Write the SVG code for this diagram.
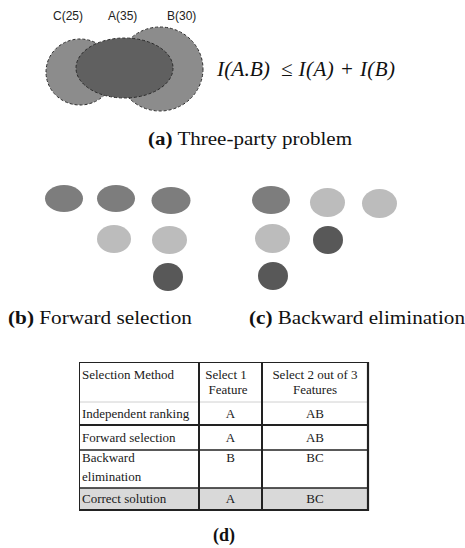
<svg xmlns="http://www.w3.org/2000/svg" width="465" height="548" viewBox="0 0 465 548">
  <style>
    .lbl { font-family: "Liberation Sans", Arial, sans-serif; font-size: 12px; fill: #222; }
    .cap { font-family: "Liberation Serif", "Times New Roman", serif; font-size: 18px; fill: #111; }
    .bold { font-weight: bold; }
    .math { font-family: "Liberation Serif", "Times New Roman", serif; font-size: 21px; font-style: italic; fill: #111; }
    .venn { stroke: #2a2a2a; stroke-width: 1; stroke-dasharray: 3 2; }
    .mid { fill: #7d7d7d; }
    .light { fill: #bcbcbc; }
    .dark { fill: #585858; }
    .cell { font-family: "Liberation Serif", "Times New Roman", serif; font-size: 13px; fill: #1a1a1a; }
    .ctr { text-anchor: middle; }
    .rule { stroke: #222; fill: none; }
  </style>

  <!-- (a) three-party problem: overlapping feature sets -->
  <g id="venn">
    <ellipse id="setC" class="venn" cx="80" cy="72" rx="34" ry="33" fill="#8c8c8c"/>
    <ellipse id="setB" class="venn" cx="160" cy="69" rx="43" ry="42" fill="#8c8c8c"/>
    <ellipse id="setA" class="venn" cx="124.5" cy="68" rx="48.5" ry="30" fill="#606060"/>
    <text class="lbl" x="53" y="20">C(25)</text>
    <text class="lbl" x="108" y="20">A(35)</text>
    <text class="lbl" x="167" y="20">B(30)</text>
  </g>
  <g id="formula" class="math">
    <text x="217" y="76" textLength="53" lengthAdjust="spacingAndGlyphs">I(A.B)</text>
    <text x="281" y="76" textLength="114" lengthAdjust="spacing">≤ I(A) + I(B)</text>
  </g>
  <text id="cap-a" class="cap" x="148" y="145" textLength="204" lengthAdjust="spacingAndGlyphs"><tspan class="bold">(a)</tspan> Three-party problem</text>

  <!-- (b) forward selection -->
  <g id="forward">
    <ellipse class="mid" cx="64" cy="198.5" rx="19" ry="13.5"/>
    <ellipse class="mid" cx="116" cy="198.5" rx="19" ry="13.5"/>
    <ellipse class="mid" cx="171" cy="200.5" rx="19.5" ry="13.5"/>
    <ellipse class="light" cx="114" cy="239" rx="17" ry="14"/>
    <ellipse class="light" cx="169.5" cy="240" rx="17.5" ry="14"/>
    <ellipse class="dark" cx="168" cy="277" rx="15" ry="14"/>
  </g>
  <text id="cap-b" class="cap" x="8" y="324" textLength="184" lengthAdjust="spacingAndGlyphs"><tspan class="bold">(b)</tspan> Forward selection</text>

  <!-- (c) backward elimination -->
  <g id="backward">
    <ellipse class="mid" cx="271" cy="200" rx="19" ry="14"/>
    <ellipse class="light" cx="327.5" cy="202.5" rx="17.5" ry="14.5"/>
    <ellipse class="light" cx="379.5" cy="203.5" rx="17.5" ry="14.5"/>
    <ellipse class="light" cx="272.5" cy="238.5" rx="17.5" ry="14.5"/>
    <ellipse class="dark" cx="328" cy="240" rx="15" ry="14"/>
    <ellipse class="dark" cx="273" cy="276" rx="15" ry="14"/>
  </g>
  <text id="cap-c" class="cap" x="249" y="324" textLength="216" lengthAdjust="spacingAndGlyphs"><tspan class="bold">(c)</tspan> Backward elimination</text>

  <!-- (d) comparison table -->
  <g id="table">
    <rect x="79" y="488" width="289" height="22" fill="#d9d9d9"/>
    <line x1="79" y1="402" x2="368" y2="402" stroke="#d0d0d0" stroke-width="1"/>
    <line class="rule" x1="79" y1="362.5" x2="368" y2="362.5" stroke-width="1"/>
    <line class="rule" x1="79" y1="425" x2="368" y2="425" stroke-width="2"/>
    <line class="rule" x1="79" y1="450" x2="368" y2="450" stroke-width="1.5" stroke="#333"/>
    <line class="rule" x1="79" y1="488" x2="368" y2="488" stroke-width="1.5" stroke="#444"/>
    <line class="rule" x1="79" y1="510" x2="368" y2="510" stroke-width="2"/>
    <line class="rule" x1="79.5" y1="362" x2="79.5" y2="511" stroke-width="1" stroke="#555"/>
    <line class="rule" x1="199" y1="362" x2="199" y2="511" stroke-width="2"/>
    <line class="rule" x1="262" y1="362" x2="262" y2="511" stroke-width="2"/>
    <line class="rule" x1="368" y1="362" x2="368" y2="511" stroke-width="2.2"/>

    <text class="cell" x="82" y="379">Selection Method</text>
    <text class="cell ctr" x="226" y="379">Select 1</text>
    <text class="cell ctr" x="228" y="394">Feature</text>
    <text class="cell ctr" x="315" y="379">Select 2 out of 3</text>
    <text class="cell ctr" x="315" y="394">Features</text>

    <text class="cell" x="82" y="418">Independent ranking</text>
    <text class="cell ctr" x="230.5" y="418">A</text>
    <text class="cell ctr" x="315" y="418">AB</text>

    <text class="cell" x="82" y="442">Forward selection</text>
    <text class="cell ctr" x="230.5" y="442">A</text>
    <text class="cell ctr" x="315" y="442">AB</text>

    <text class="cell" x="82" y="462">Backward</text>
    <text class="cell" x="82" y="481">elimination</text>
    <text class="cell ctr" x="230.5" y="462">B</text>
    <text class="cell ctr" x="315" y="462">BC</text>

    <text class="cell" x="82" y="503">Correct solution</text>
    <text class="cell ctr" x="230.5" y="503">A</text>
    <text class="cell ctr" x="315" y="503">BC</text>
  </g>
  <text id="cap-d" class="cap bold ctr" x="224" y="541">(d)</text>
</svg>
